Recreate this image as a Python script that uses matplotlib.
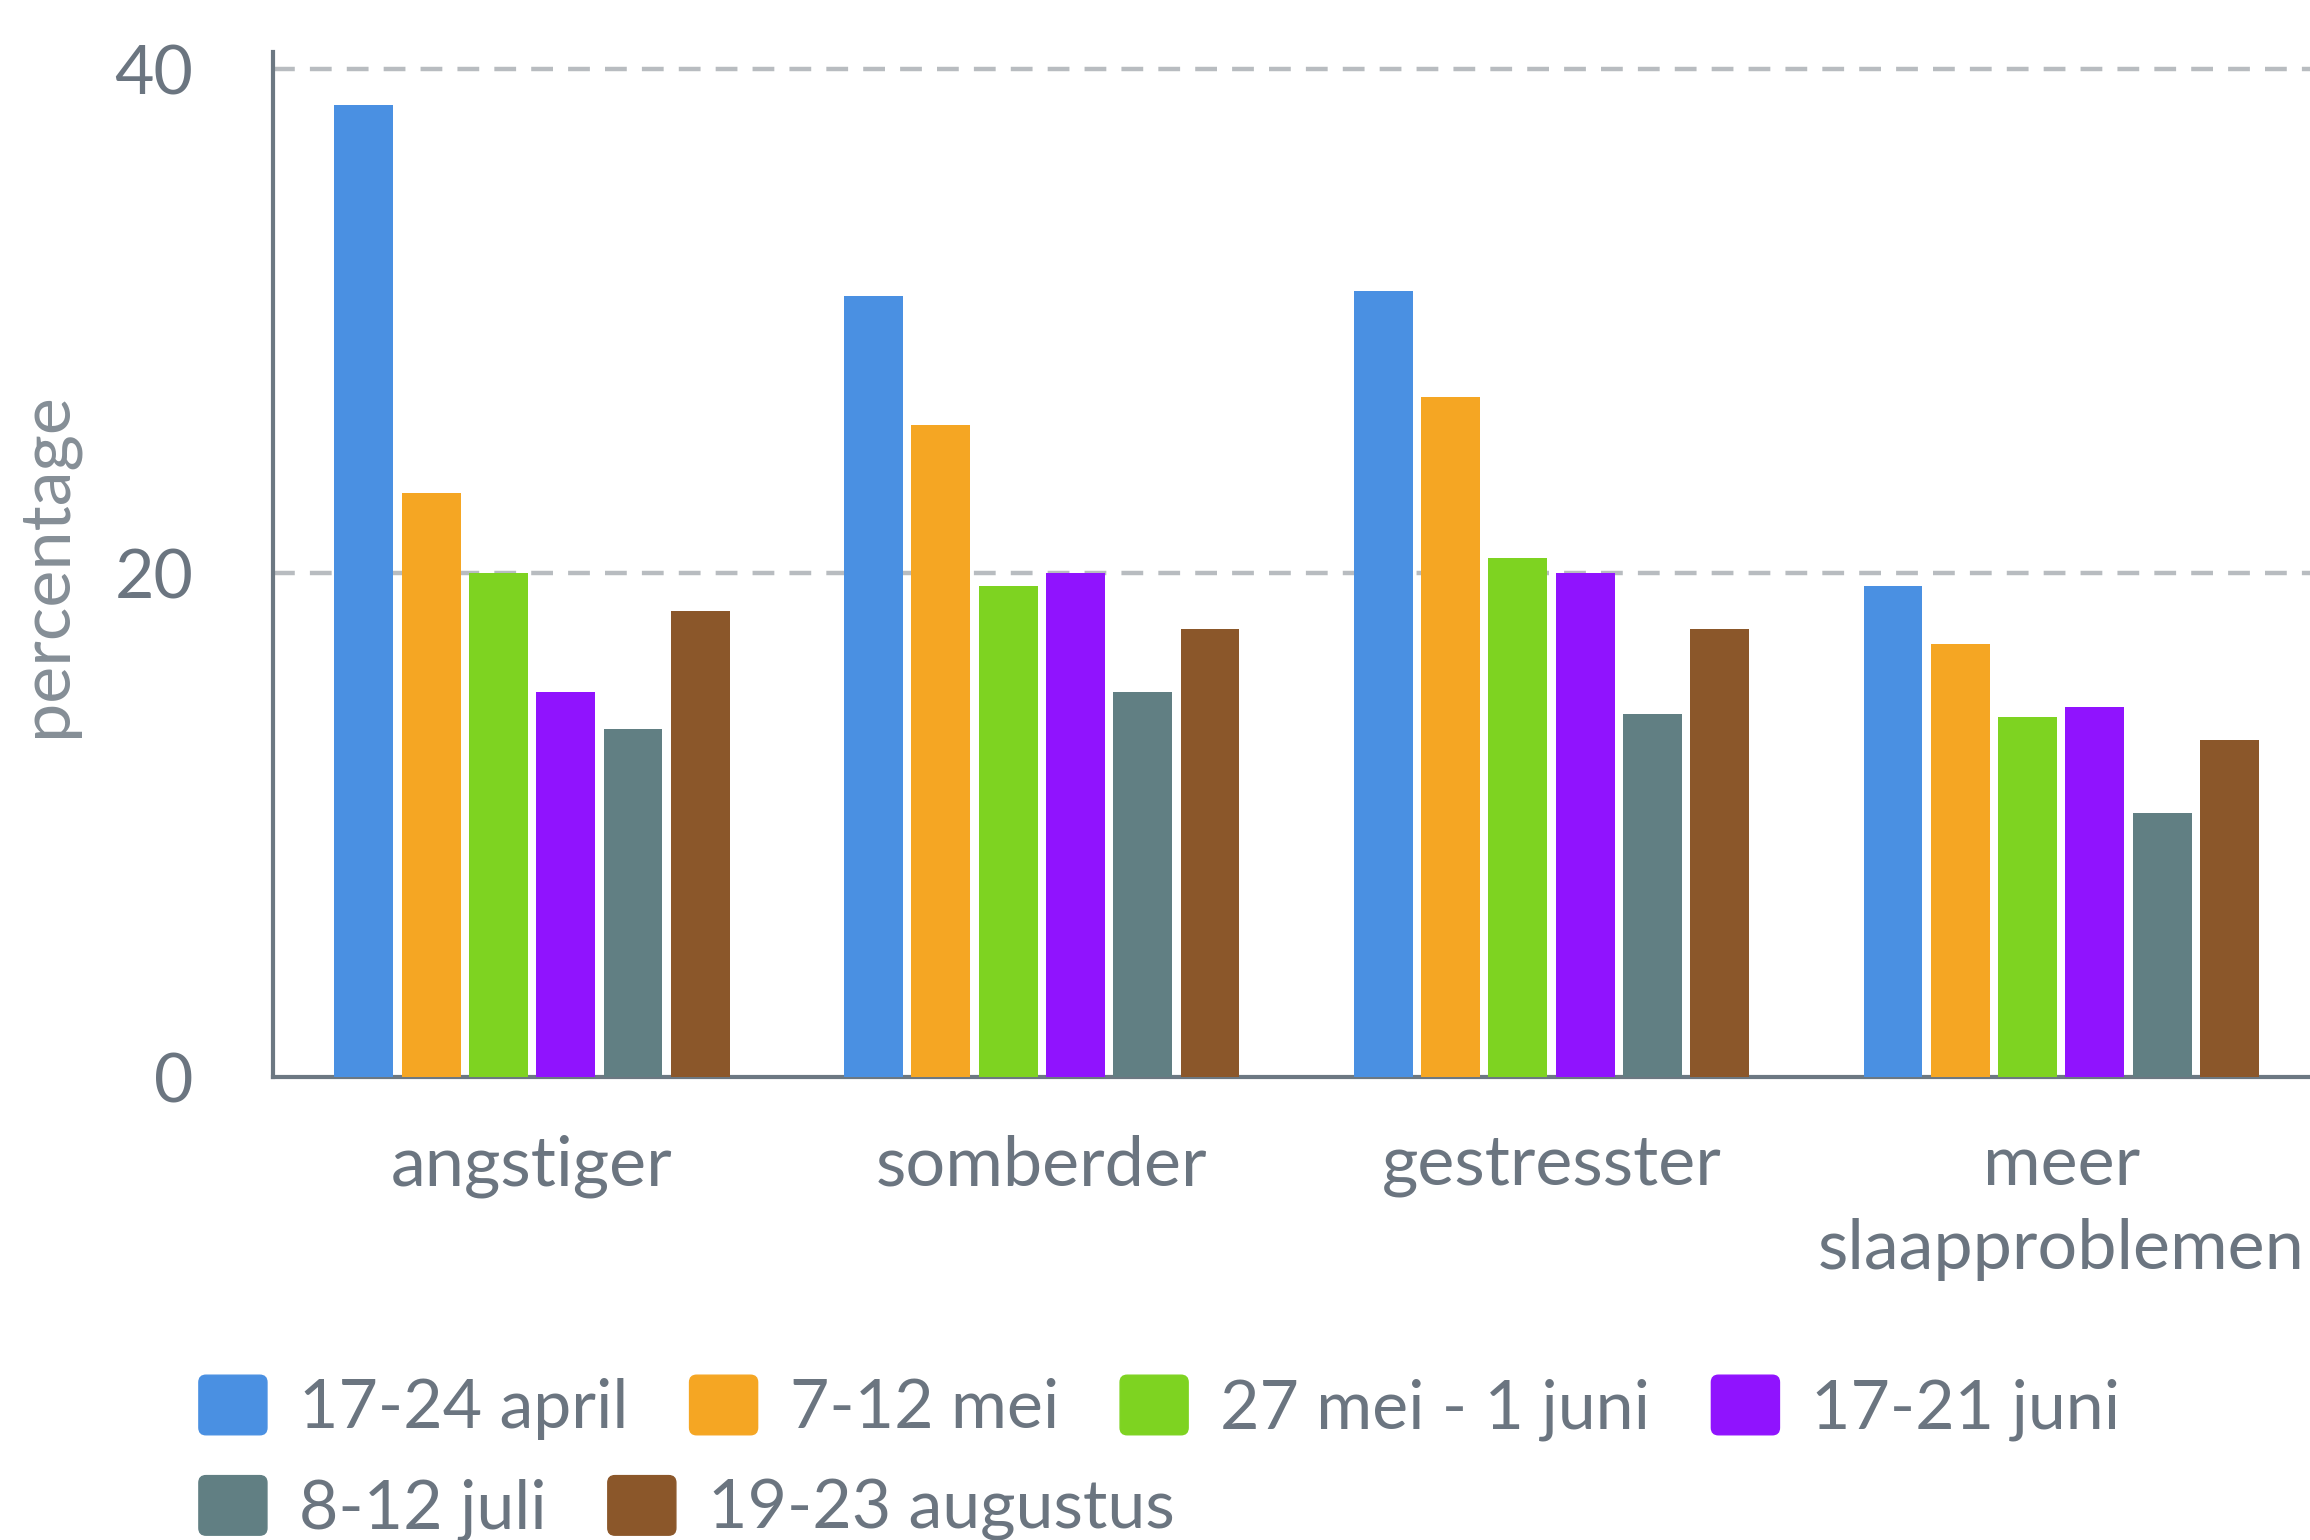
import numpy as np
import matplotlib.pyplot as plt
from matplotlib.patches import Patch, FancyBboxPatch
from matplotlib.legend_handler import HandlerPatch

plt.rcParams['font.family'] = ['Lato', 'DejaVu Sans']

categories = ['angstiger', 'somberder', 'gestresster', 'meer\nslaapproblemen']
periods = ['17-24 april', '7-12 mei', '27 mei - 1 juni', '17-21 juni',
           '8-12 juli', '19-23 augustus']
colors = ['#4a90e2', '#f5a623', '#7ed321', '#9013fe', '#617f83', '#8b572a']

# percentage per period, one list per period (order follows categories)
april = [38.6, 31.0, 31.2, 19.5]
mei = [23.2, 25.9, 27.0, 17.2]
eind_mei = [20.0, 19.5, 20.6, 14.3]
juni = [15.3, 20.0, 20.0, 14.7]
juli = [13.8, 15.3, 14.4, 10.5]
augustus = [18.5, 17.8, 17.8, 13.4]
series = [april, mei, eind_mei, juni, juli, augustus]

text_col = '#6b7580'
axis_col = '#6c7882'
fs = 49
fs_lab = 50.5

fig = plt.figure(figsize=(23.1, 15.4), dpi=100)
ax = fig.add_axes([0.118, 0.3005, 0.882, 0.666])

x = np.arange(len(categories))
pitch = 0.132
width = 0.1156
for i, (vals, c) in enumerate(zip(series, colors)):
    ax.bar(x + (i - 2.5) * pitch, vals, width=width, color=c, zorder=3)

ax.set_xlim(-0.509, 3.488)
ax.set_ylim(0, 40.7)
ax.set_yticks([0, 20, 40])
ax.set_xticks(x)
ax.set_xticklabels(categories, linespacing=1.4)

for y in [20, 40]:
    ax.axhline(y, color='#b8bcc0', lw=3.2, dashes=(4.9, 3.4), zorder=1)

for s in ['top', 'right']:
    ax.spines[s].set_visible(False)
for s in ['left', 'bottom']:
    ax.spines[s].set_color(axis_col)
    ax.spines[s].set_linewidth(3)

ax.tick_params(axis='y', length=0, pad=57, labelsize=fs, labelcolor=text_col)
ax.tick_params(axis='x', length=0, pad=41, labelsize=fs_lab, labelcolor=text_col)
ax.set_ylabel('percentage', fontsize=fs_lab, color='#858e96', labelpad=26)


def rounded(legend, orig_handle, xdescent, ydescent, width, height, fontsize):
    return FancyBboxPatch((-xdescent, -ydescent), width, height,
                          boxstyle='round,pad=0,rounding_size=%f' % (height * 0.12))


handles = [Patch(color=c) for c in colors]
hmap = {Patch: HandlerPatch(patch_func=rounded)}
common = dict(frameon=False, fontsize=fs, labelcolor=text_col, borderpad=0,
              handlelength=1.0, handleheight=0.97, handletextpad=0.47,
              columnspacing=0.9, borderaxespad=0, handler_map=hmap,
              loc='center left')
fig.legend(handles[:4], periods[:4], ncol=4, bbox_to_anchor=(0.0861, 0.0857), **common)
fig.legend(handles[4:], periods[4:], ncol=2, bbox_to_anchor=(0.0861, 0.0205), **common)

fig.savefig('out.png', dpi=100)
